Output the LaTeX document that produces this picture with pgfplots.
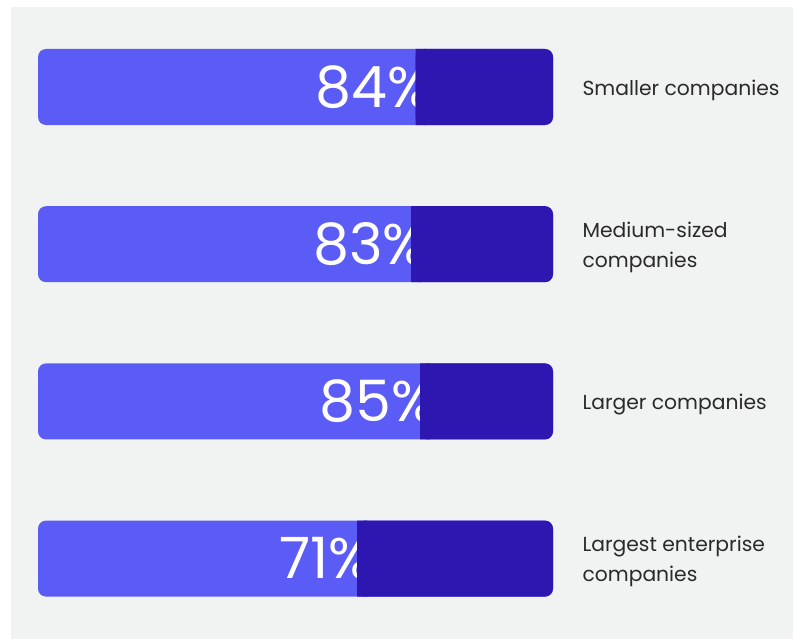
\documentclass[border=0pt]{standalone}
\usepackage{pgfplots}
\pgfplotsset{compat=1.18}
\usepackage{pgfplotstable}
\usepackage{fontspec}
\setmainfont{Poppins}
\definecolor{barlight}{HTML}{5B5BF6}
\definecolor{bardark}{HTML}{2E17B1}
\definecolor{bgcol}{HTML}{F1F2F2}
\definecolor{labcol}{HTML}{2A2A2A}
\pgfplotstableread{
pos value
0 84
1 83
2 85
3 71
}\shares
\pgfplotsset{baraxis/.style={at={(38bp,630.6bp)}, anchor=north west,
  scale only axis, width=515bp, height=628.8bp,
  xmin=0, xmax=114.57, ymin=-0.5, ymax=3.5, y dir=reverse,
  hide axis, clip=false}}
\begin{document}
\begin{tikzpicture}
\fill[white] (0,0) rectangle (793bp,639bp);
\fill[bgcol] (11bp,0) rectangle (793bp,632bp);
\begin{axis}[baraxis]
\addplot[xbar, bar width=76bp, fill=barlight, draw=none, rounded corners=8bp] table[x expr=114.57, y=pos] {\shares};
\addplot[draw=none, mark=none, nodes near coords={\pgfplotspointmeta\%}, point meta=explicit symbolic,
  every node near coord/.style={anchor=east, text=white, inner sep=0pt, font=\fontsize{57bp}{60bp}\selectfont, xshift=15bp}]
  table[x=value, y=pos, meta=value] {\shares};
\begin{scope}[every node/.style={anchor=west, align=left, inner sep=0pt, text=labcol, yshift=-3bp, font=\fontsize{20.3bp}{29.5bp}\selectfont}]
\node at (axis cs:121.1,0) {Smaller companies};
\node at (axis cs:121.1,1) {Medium-sized\\companies};
\node at (axis cs:121.1,2) {Larger companies};
\node at (axis cs:121.1,3) {Largest enterprise\\companies};
\end{scope}
\end{axis}
\begin{axis}[baraxis, xbar stacked, bar width=76bp]
\addplot[draw=none, fill=none] table[x=value, y=pos] {\shares};
\addplot[draw=none, fill=bardark, rounded corners=8bp] table[x expr=114.57-\thisrow{value}, y=pos] {\shares};
\end{axis}
\begin{axis}[baraxis, xbar stacked, bar width=76bp]
\addplot[draw=none, fill=none] table[x=value, y=pos] {\shares};
\addplot[draw=none, fill=bardark] table[x expr=2.2, y=pos] {\shares};
\end{axis}
\end{tikzpicture}
\end{document}
